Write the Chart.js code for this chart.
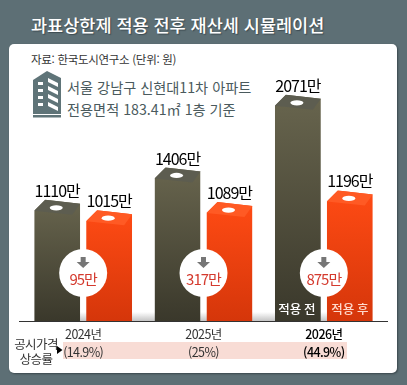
<!DOCTYPE html>
<html lang="ko">
<head>
<meta charset="utf-8">
<title>과표상한제 적용 전후 재산세 시뮬레이션</title>
<script src="https://cdn.jsdelivr.net/npm/chart.js@4/dist/chart.umd.min.js"></script>
<style>
  html, body { margin: 0; padding: 0; }
  body {
    width: 407px; height: 385px; overflow: hidden; position: relative;
    background: #5d6f75;
    font-family: "Noto Sans CJK KR", "Noto Sans", sans-serif;
  }
  #card {
    position: absolute; left: 9px; top: 44px; width: 388px; height: 329px;
    background: #fff; border-radius: 5px;
    box-shadow: 1px 1px 2px rgba(35, 45, 50, .6);
  }
  #title, #source, .info { position: absolute; white-space: nowrap; }
  #title {
    left: 31px; top: 11px; font-size: 17.5px; line-height: 28px; font-weight: 500;
    color: #fff; text-shadow: 1px 1px 1px rgba(30, 40, 45, .5);
  }
  #source { left: 31px; top: 50px; font-size: 11.5px; line-height: 18px; color: #333; letter-spacing: -.3px; }
  .info { left: 67px; font-size: 14.2px; line-height: 22px; color: #4a5a5d; }
  #info1 { top: 76px; }
  #info2 { top: 98px; }
  #icon { position: absolute; left: 33px; top: 70px; }
  canvas { position: absolute; left: 0; top: 0; }
</style>
</head>
<body>
<div id="card"></div>
<div id="title">과표상한제 적용 전후 재산세 시뮬레이션</div>
<div id="source">자료: 한국도시연구소 (단위: 원)</div>
<svg id="icon" width="28" height="48" viewBox="0 0 28 48">
  <path d="M0 44V10L14 1L28 8V44Z" fill="#5f7478"/>
  <rect x="0" y="45" width="28" height="2.5" fill="#5f7478"/>
  <path d="M5 12h5v3h-5zM5 19h5v3h-5zM5 26h5v3h-5zM5 33h5v3h-5z" fill="#fff"/>
  <path d="M15 8l10 5v4l-10-5zM15 16l10 5v4l-10-5zM15 24l10 5v4l-10-5zM15 32l10 5v4l-10-5z" fill="#fff"/>
</svg>
<div class="info" id="info1">서울 강남구 신현대11차 아파트</div>
<div class="info" id="info2">전용면적 183.41㎡ 1층 기준</div>
<canvas id="chart" width="407" height="385"></canvas>

<script>
const categories = ["2024년", "2025년", "2026년"];
const riseRates = ["(14.9%)", "(25%)", "(44.9%)"];
const seriesNames = ["적용 전", "적용 후"];
const beforeValues = [1110, 1406, 2071];
const afterValues = [1015, 1089, 1196];
const cuts = ["95만", "317만", "875만"];
const rowLabels = ["공시가격", "상승률"];

const FONT = '"Noto Sans CJK KR", "Noto Sans", sans-serif';
const CAP_COLORS = ["#5d5d50", "#ff5a24"];

function barGradient(top, bottom) {
  return (context) => {
    const chart = context.chart;
    if (context.type !== "data" || !chart.chartArea) return top;
    const y = chart.scales.y.getPixelForValue(context.raw);
    const g = chart.ctx.createLinearGradient(0, y, 0, chart.chartArea.bottom);
    g.addColorStop(0, top);
    g.addColorStop(1, bottom);
    return g;
  };
}

// 막대 윗면이 비스듬한 건물 모양
function traceShape(ctx, bar) {
  const x0 = bar.x - bar.width / 2;
  const x1 = bar.x + bar.width / 2;
  ctx.moveTo(x0, bar.y + 11);
  ctx.lineTo(x0 + 11, bar.y);
  ctx.lineTo(x1, bar.y + 4);
  ctx.lineTo(x1, bar.base);
  ctx.lineTo(x0, bar.base);
  ctx.closePath();
}

const buildingPlugin = {
  id: "building",
  beforeDraw(chart) {
    const ctx = chart.ctx;
    const { bottom } = chart.chartArea;
    ctx.letterSpacing = "-0.6px";
    ctx.save();
    // 상승률 띠
    ctx.fillStyle = "#f8dcd5";
    ctx.fillRect(63, bottom + 21, 284, 17);
    // 왼쪽 라벨
    ctx.fillStyle = "#333";
    ctx.font = `400 12.5px ${FONT}`;
    ctx.textAlign = "center";
    ctx.textBaseline = "middle";
    ctx.fillText(rowLabels[0], 36, bottom + 23);
    ctx.fillText(rowLabels[1], 36, bottom + 38);
    ctx.restore();
  },
  beforeDatasetsDraw(chart) {
    const ctx = chart.ctx;
    const { bottom } = chart.chartArea;
    const first = chart.getDatasetMeta(0).data[0];
    const last = chart.getDatasetMeta(1).data[2];
    // 바닥 그림자
    const g = ctx.createLinearGradient(0, bottom - 9, 0, bottom);
    g.addColorStop(0, "rgba(190,190,190,0)");
    g.addColorStop(1, "rgba(190,190,190,.9)");
    ctx.fillStyle = g;
    ctx.fillRect(first.x, bottom - 9, last.x - first.x, 9);
  },
  beforeDatasetDraw(chart, args) {
    const ctx = chart.ctx;
    ctx.save();
    ctx.beginPath();
    chart.getDatasetMeta(args.index).data.forEach((bar) => traceShape(ctx, bar));
    ctx.clip();
  },
  afterDatasetDraw(chart, args) {
    const ctx = chart.ctx;
    ctx.restore();
    chart.getDatasetMeta(args.index).data.forEach((bar) => {
      const x0 = bar.x - bar.width / 2;
      const x1 = bar.x + bar.width / 2;
      ctx.fillStyle = CAP_COLORS[args.index];
      ctx.beginPath();
      ctx.moveTo(x0, bar.y + 11);
      ctx.lineTo(x0 + 11, bar.y);
      ctx.lineTo(x1, bar.y + 4);
      ctx.lineTo(x1 - 8, bar.y + 15);
      ctx.closePath();
      ctx.fill();
      ctx.fillStyle = "#fff";
      ctx.beginPath();
      ctx.ellipse(x0 + 22, bar.y + 8, 6.5, 2.6, 0, 0, Math.PI * 2);
      ctx.fill();
    });
  },
  afterDatasetsDraw(chart) {
    const ctx = chart.ctx;
    const { left, right, bottom } = chart.chartArea;
    ctx.save();
    ctx.letterSpacing = "-1px";
    ctx.textAlign = "center";
    ctx.textBaseline = "middle";

    // 값 라벨
    ctx.font = `400 16px ${FONT}`;
    ctx.fillStyle = "#000";
    [0, 1].forEach((ds) => {
      chart.getDatasetMeta(ds).data.forEach((bar, i) => {
        ctx.fillText(chart.data.datasets[ds].data[i] + "만", bar.x, bar.y - 9);
      });
    });

    // 감소액 원
    categories.forEach((_, i) => {
      const cx = chart.scales.x.getPixelForValue(i);
      const cy = bottom - 48;
      ctx.fillStyle = "#fff";
      ctx.beginPath();
      ctx.arc(cx, cy, 24, 0, Math.PI * 2);
      ctx.fill();
      ctx.fillStyle = "#767676";
      ctx.beginPath();
      ctx.moveTo(cx - 2.5, cy - 16);
      ctx.lineTo(cx + 2.5, cy - 16);
      ctx.lineTo(cx + 2.5, cy - 11);
      ctx.lineTo(cx + 6.5, cy - 11);
      ctx.lineTo(cx, cy - 5);
      ctx.lineTo(cx - 6.5, cy - 11);
      ctx.lineTo(cx - 2.5, cy - 11);
      ctx.closePath();
      ctx.fill();
      ctx.font = `400 15px ${FONT}`;
      ctx.fillStyle = "#d43a2e";
      ctx.fillText(cuts[i], cx, cy + 6);
    });

    // 막대 안 시리즈 이름
    ctx.font = `500 12.5px ${FONT}`;
    ctx.letterSpacing = "0px";
    ctx.fillStyle = "#fff";
    ctx.fillText(seriesNames[0], chart.getDatasetMeta(0).data[2].x - 1, bottom - 12);
    ctx.fillStyle = "#ffd9cc";
    ctx.fillText(seriesNames[1], chart.getDatasetMeta(1).data[2].x, bottom - 12);

    // 기준선
    ctx.strokeStyle = "#333";
    ctx.lineWidth = 1;
    ctx.beginPath();
    ctx.moveTo(left - 4, bottom + 0.5);
    ctx.lineTo(right + 4, bottom + 0.5);
    ctx.stroke();

    // 상승률 화살표
    ctx.fillStyle = "#000";
    ctx.beginPath();
    ctx.moveTo(57, bottom + 25);
    ctx.lineTo(62.5, bottom + 29);
    ctx.lineTo(57, bottom + 33);
    ctx.closePath();
    ctx.fill();
    ctx.restore();
  },
};

new Chart(document.getElementById("chart"), {
  type: "bar",
  data: {
    labels: categories,
    datasets: [
      {
        label: seriesNames[0],
        data: beforeValues,
        backgroundColor: barGradient("#68654e", "#3a382b"),
        categoryPercentage: 0.863,
        barPercentage: 0.885,
      },
      {
        label: seriesNames[1],
        data: afterValues,
        backgroundColor: barGradient("#ff4b14", "#d5360a"),
        categoryPercentage: 0.863,
        barPercentage: 0.885,
      },
    ],
  },
  options: {
    responsive: false,
    animation: false,
    layout: { padding: { left: 23, right: 23, top: 48, bottom: 0 } },
    plugins: { legend: { display: false }, tooltip: { enabled: false } },
    scales: {
      x: {
        grid: { display: false, drawTicks: false },
        border: { display: false },
        afterFit: (scale) => { scale.height = 64; },
        ticks: {
          padding: 4,
          maxRotation: 0,
          color: (c) => (c.index === 2 ? "#000" : "#333"),
          font: (c) => ({
            family: FONT,
            size: 12.5,
            lineHeight: 18 / 12.5,
            weight: c.index === 2 ? "500" : "400",
          }),
          callback: (value, i) => [categories[i], riseRates[i]],
        },
      },
      y: { display: false, min: 0, max: 2500 },
    },
  },
  plugins: [buildingPlugin],
});
</script>
</body>
</html>
